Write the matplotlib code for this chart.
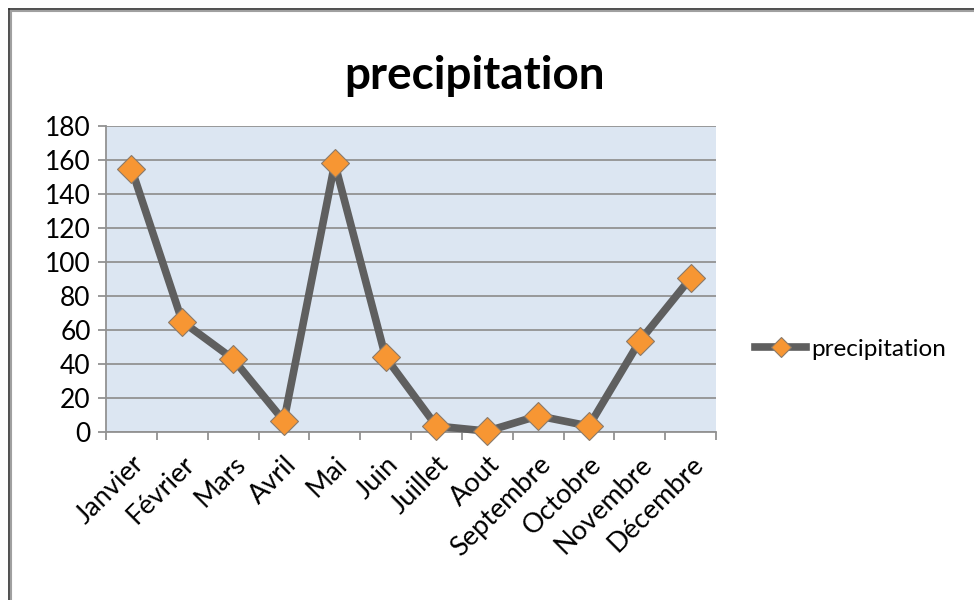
import numpy as np
import matplotlib.pyplot as plt
from matplotlib.lines import Line2D

mois = ['Janvier', 'Février', 'Mars', 'Avril', 'Mai', 'Juin', 'Juillet',
        'Aout', 'Septembre', 'Octobre', 'Novembre', 'Décembre']
precipitation = [155, 65, 43, 6.5, 158, 44, 3.5, 0.5, 9.5, 3.5, 53.5, 90.5]
graduations = [0, 20, 40, 60, 80, 100, 120, 140, 160, 180]

plt.rcParams['font.family'] = ['Lato', 'DejaVu Sans']

fig = plt.figure(figsize=(9.74, 6), dpi=100)
ax = fig.add_axes([106 / 974, 1 - 432 / 600, 610 / 974, 306 / 600])
ax.set_facecolor('#dce6f2')

x = np.arange(len(mois))
ax.plot(x, precipitation, color='#5f5f5f', linewidth=5.5, marker='D',
        markersize=14, markerfacecolor='#f79633', markeredgecolor='#8a7a6a',
        markeredgewidth=0.8, label='precipitation', zorder=3, clip_on=False)

ax.set_xlim(-0.5, len(mois) - 0.5)
ax.set_ylim(0, 180)
ax.set_yticks(graduations)
ax.yaxis.grid(True, color='#929292', linewidth=1.3)
ax.set_axisbelow(True)
ax.tick_params(axis='y', labelsize=19, length=6, color='#929292', width=1.3, pad=5)

ax.set_xticks(np.arange(len(mois) + 1) - 0.5)
ax.set_xticklabels([])
ax.tick_params(axis='x', length=6, color='#929292', width=1.3)
ax.set_xticks(x, minor=True)
ax.set_xticklabels(mois, minor=True, rotation=45, ha='right',
                   rotation_mode='anchor', fontsize=19.5)
ax.tick_params(axis='x', which='minor', length=0, pad=14)

for s in ['top', 'right']:
    ax.spines[s].set_visible(False)
for s in ['left', 'bottom']:
    ax.spines[s].set_color('#929292')
    ax.spines[s].set_linewidth(1.3)

fig.text(0.487, 1 - 76 / 600, 'precipitation', ha='center', va='center',
         fontsize=33, fontweight='bold')

fig.legend(loc='center left', bbox_to_anchor=(755 / 974, 1 - 349 / 600),
           frameon=False, fontsize=17.5, handlelength=2.1, handletextpad=0.2,
           borderpad=0, borderaxespad=0, markerscale=0.75)

# cadre
fig.add_artist(Line2D([8.5 / 974, 8.5 / 974], [0, 1 - 8.5 / 600], color='#303030', lw=1.2))
fig.add_artist(Line2D([8.5 / 974, 1], [1 - 8.5 / 600, 1 - 8.5 / 600], color='#303030', lw=1.2))
fig.add_artist(Line2D([11 / 974, 11 / 974], [0, 1 - 11 / 600], color='#a0a0a0', lw=1.5))
fig.add_artist(Line2D([11 / 974, 1], [1 - 11 / 600, 1 - 11 / 600], color='#a0a0a0', lw=1.5))

fig.savefig('out.png', dpi=100)
